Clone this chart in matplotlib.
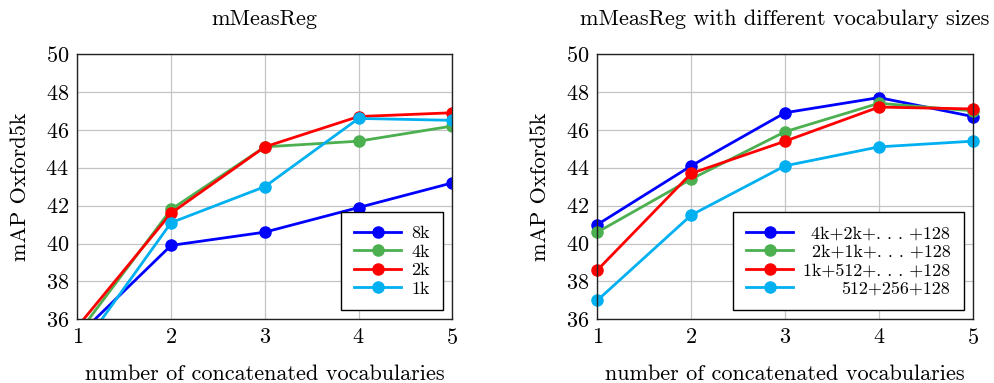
import matplotlib
matplotlib.use("Agg")
import matplotlib.pyplot as plt

plt.rcParams["font.family"] = "serif"
plt.rcParams["font.serif"] = ["cmr10", "DejaVu Serif"]
plt.rcParams["mathtext.fontset"] = "cm"
plt.rcParams["axes.formatter.use_mathtext"] = True

# number of concatenated vocabularies
x = [1, 2, 3, 4, 5]

# left panel: mMeasReg
left_labels = ["8k", "4k", "2k", "1k"]
left_8k = [35.1, 39.9, 40.6, 41.9, 43.2]
left_4k = [35.2, 41.8, 45.1, 45.4, 46.2]
left_2k = [35.6, 41.6, 45.1, 46.7, 46.9]
left_1k = [34.2, 41.1, 43.0, 46.6, 46.5]

# right panel: different vocabulary sizes
right_labels = ["4k+2k+. . . +128", "2k+1k+. . . +128",
                "1k+512+. . . +128", "512+256+128"]
right_4k = [41.0, 44.1, 46.9, 47.7, 46.7]
right_2k = [40.6, 43.4, 45.9, 47.4, 47.0]
right_1k = [38.6, 43.7, 45.4, 47.2, 47.1]
right_512 = [37.0, 41.5, 44.1, 45.1, 45.4]

yticks = [36, 38, 40, 42, 44, 46, 48, 50]
colors = ["#0000ff", "#4caf50", "#ff0000", "#00b0f0"]

fig = plt.figure(figsize=(9.94, 3.83), dpi=100)
ax1 = fig.add_axes([0.0778, 0.1663, 0.3773, 0.6927])
ax2 = fig.add_axes([0.6010, 0.1663, 0.3777, 0.6927])

FS = 16


def style(ax, title):
    ax.set_xlim(1, 5)
    ax.set_ylim(36, 50)
    ax.set_xticks(x)
    ax.set_yticks(yticks)
    ax.grid(True, color="#c4c4c4", linewidth=0.9)
    ax.set_axisbelow(True)
    ax.tick_params(axis="both", length=0, labelsize=FS, pad=6)
    for s in ax.spines.values():
        s.set_linewidth(1.0)
        s.set_color("#222222")
    ax.set_xlabel("number of concatenated vocabularies", fontsize=FS, labelpad=12)
    ax.set_ylabel("mAP Oxford5k", fontsize=FS, labelpad=11)
    ax.set_title(title, fontsize=FS, pad=21)


def make_legend(ax):
    leg = ax.legend(loc="lower right", fontsize=13, frameon=True, fancybox=False,
                    edgecolor="black", framealpha=1, handlelength=2.6,
                    borderaxespad=0.5, labelspacing=0.16, handletextpad=0.55,
                    borderpad=0.75)
    leg.get_frame().set_linewidth(1.0)
    return leg


for ys, lab, c in zip([left_8k, left_4k, left_2k, left_1k], left_labels, colors):
    ax1.plot(x, ys, color=c, linewidth=2, marker="o", markersize=8,
             label=lab, clip_on=True)
style(ax1, "mMeasReg")
make_legend(ax1)

for ys, lab, c in zip([right_4k, right_2k, right_1k, right_512], right_labels, colors):
    ax2.plot(x, ys, color=c, linewidth=2, marker="o", markersize=8,
             label=lab, clip_on=False)
style(ax2, "mMeasReg with different vocabulary sizes")
leg2 = make_legend(ax2)

# right-align the entries of the second legend
fig.canvas.draw()
renderer = fig.canvas.get_renderer()
widths = [t.get_window_extent(renderer).width for t in leg2.get_texts()]
wmax = max(widths)
for t, w in zip(leg2.get_texts(), widths):
    t.set_position((wmax - w, 0))

fig.savefig("out.png", dpi=100)
